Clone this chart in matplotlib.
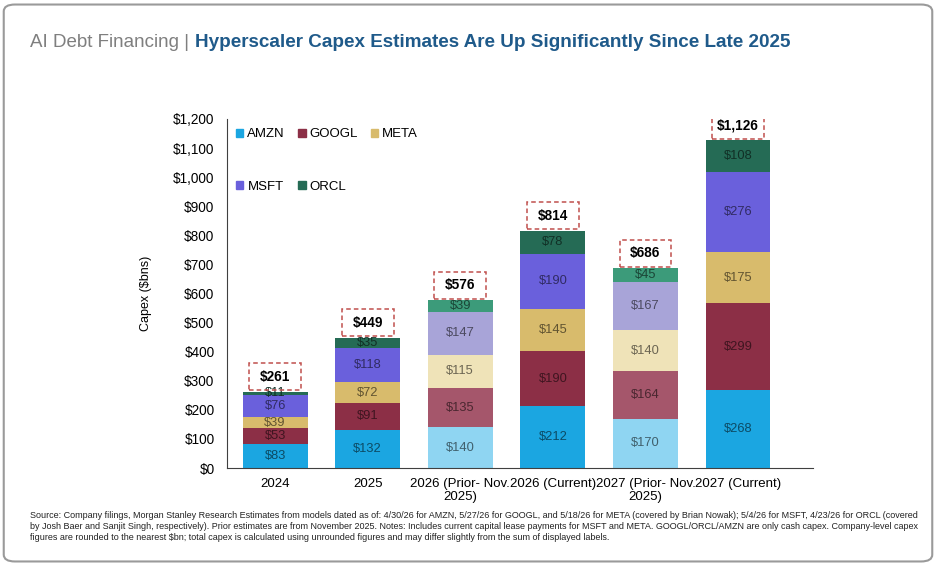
import numpy as np
import matplotlib
matplotlib.use('Agg')
import matplotlib.pyplot as plt
from matplotlib.patches import Patch, Rectangle, FancyBboxPatch
from matplotlib.colors import to_rgb

plt.rcParams['font.family'] = ['Liberation Sans', 'DejaVu Sans']

# data ($bn)
categories = ['2024', '2025', '2026 (Prior- Nov.\n2025)', '2026 (Current)',
              '2027 (Prior- Nov.\n2025)', '2027 (Current)']
companies = ['AMZN', 'GOOGL', 'META', 'MSFT', 'ORCL']
amzn = [83, 132, 140, 212, 170, 268]
googl = [53, 91, 135, 190, 164, 299]
meta = [39, 72, 115, 145, 140, 175]
msft = [76, 118, 147, 190, 167, 276]
orcl = [11, 35, 39, 78, 45, 108]
totals = [261, 449, 576, 814, 686, 1126]
is_prior = [False, False, True, False, True, False]

series = [amzn, googl, meta, msft, orcl]

# colours: current / prior estimates
cur_colors = ['#1ba6e1', '#8c2f46', '#d8bb6c', '#6a60dc', '#256b55']
prior_colors = ['#8fd5f2', '#a5566b', '#efe3b8', '#a8a4d8', '#3c9b7a']

def darken(c, f=0.45):
    r, g, b = to_rgb(c)
    return (r * f, g * f, b * f)

fig = plt.figure(figsize=(9.36, 5.66), dpi=100)

# card frame
card = FancyBboxPatch((0.004, 0.008), 0.992, 0.984, boxstyle='round,pad=0,rounding_size=0.012',
                      transform=fig.transFigure, facecolor='white', edgecolor='#9a9a9a',
                      linewidth=1.5, zorder=-10)
fig.patches.append(card)

ax = fig.add_axes([0.2425, 0.1731, 0.6261, 0.6167])
ax.set_facecolor('none')

x = np.arange(len(categories))
width = 0.70
bottom = np.zeros(len(categories))
for i, vals in enumerate(series):
    cols = [prior_colors[i] if p else cur_colors[i] for p in is_prior]
    ax.bar(x, vals, width, bottom=bottom, color=cols, zorder=2)
    for j, v in enumerate(vals):
        ax.text(x[j], bottom[j] + v / 2, f'${v}', ha='center', va='center',
                fontsize=9.3, color=darken(cols[j]), zorder=3)
    bottom += np.array(vals)

# totals in dashed boxes
for j, t in enumerate(totals):
    ax.text(x[j], bottom[j] + 52, f'${t:,}', ha='center', va='center',
            fontsize=9.8, fontweight='bold', color='black', zorder=4)
    box = Rectangle((x[j] - 0.28, bottom[j] + 6), 0.56, 92, fill=False,
                    edgecolor='#c0504d', linestyle=(0, (3, 2)), linewidth=1.1, zorder=4)
    ax.add_patch(box)

ax.set_xlim(-0.52, 5.81)
ax.set_ylim(0, 1200)
ax.set_yticks(np.arange(0, 1201, 100))
ax.set_yticklabels([f'${v:,}' for v in range(0, 1201, 100)], fontsize=9.8)
ax.set_xticks(x)
ax.set_xticklabels(categories, fontsize=9.5, linespacing=1.1)
ax.tick_params(axis='y', length=0, pad=9)
ax.tick_params(axis='x', length=0, pad=7)
for s in ['top', 'right']:
    ax.spines[s].set_visible(False)
ax.spines['left'].set_color('#404040')
ax.spines['bottom'].set_color('#404040')
ax.set_ylabel('Capex ($bns)', fontsize=9, labelpad=15)

# legend in row order AMZN GOOGL META / MSFT ORCL
handles = [Patch(color=cur_colors[i], label=companies[i]) for i in range(5)]
order = [0, 3, 1, 4, 2]
ax.legend([handles[i] for i in order], [companies[i] for i in order], ncol=3,
          loc='upper left', bbox_to_anchor=(0.0, 1.0), frameon=False, fontsize=9.5,
          handlelength=0.55, handleheight=0.55, handletextpad=0.3,
          columnspacing=1.0, labelspacing=3.1, borderaxespad=0.3)

# title
fig.text(0.032, 0.925, 'AI Debt Financing | ', fontsize=13.5, color='#7f7f7f',
         ha='left', va='center')
fig.text(0.208, 0.925, 'Hyperscaler Capex Estimates Are Up Significantly Since Late 2025',
         fontsize=13.6, color='#1f5a8a', fontweight='bold', ha='left', va='center')

footnote = ('Source: Company filings, Morgan Stanley Research Estimates from models dated as of: 4/30/26 for AMZN, '
            '5/27/26 for GOOGL, and 5/18/26 for META (covered by Brian Nowak); 5/4/26 for MSFT, 4/23/26 for ORCL (covered\n'
            'by Josh Baer and Sanjit Singh, respectively). Prior estimates are from November 2025. Notes: Includes current '
            'capital lease payments for MSFT and META. GOOGL/ORCL/AMZN are only cash capex. Company-level capex\n'
            'figures are rounded to the nearest $bn; total capex is calculated using unrounded figures and may differ '
            'slightly from the sum of displayed labels.')
fig.text(0.032, 0.098, footnote, fontsize=6.45, color='#222222', ha='left', va='top',
         linespacing=1.35)

fig.savefig('out.png', dpi=100)
